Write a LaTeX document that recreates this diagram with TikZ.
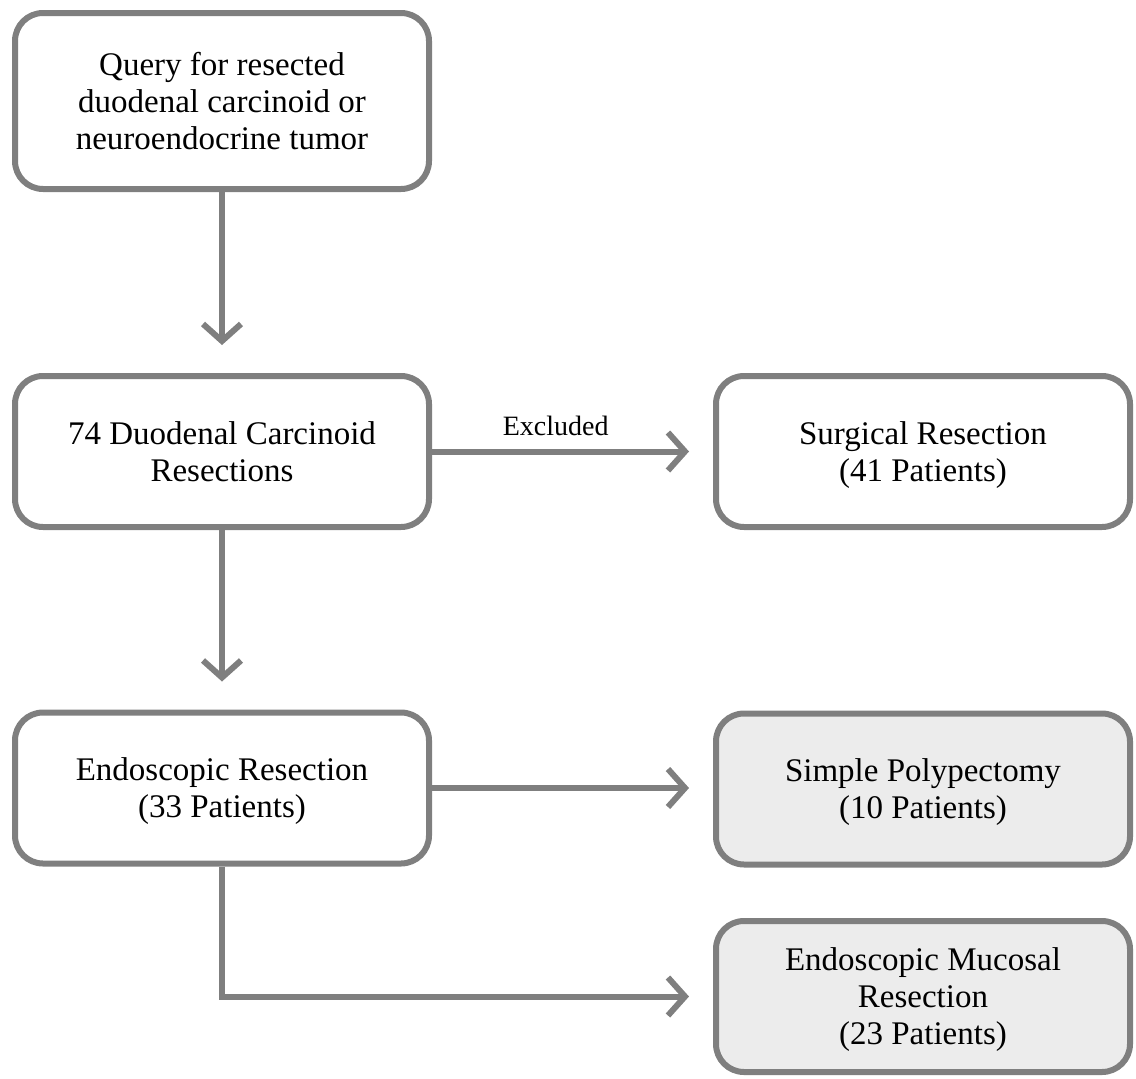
\documentclass[tikz,border=0pt]{standalone}
\usepackage{fontspec}
\setmainfont{Liberation Serif}
\usetikzlibrary{arrows.meta}
\definecolor{linegray}{HTML}{7F7F7F}
\definecolor{fillgray}{HTML}{ECECEC}
\tikzset{
	box/.style={draw=linegray, line width=6pt, rounded corners=28pt, fill=white,
		minimum width=414pt, minimum height=151pt, align=center,
		font=\fontsize{33}{37}\selectfont, text depth=0pt,
		execute at begin node=\strut, execute at end node=\strut},
	greybox/.style={box, fill=fillgray},
	arr/.style={draw=linegray, line width=6pt, -{Straight Barb[length=17pt,width=38pt]}}
}
\begin{document}
\begin{tikzpicture}[x=1pt,y=-1pt]
	\useasboundingbox (0,0) rectangle (1136,1079);
	\node[box, minimum height=176pt] at (222,101) (query) {Query for resected\\duodenal carcinoid or\\neuroendocrine tumor};
	\node[box] at (222,451.5) (total) {74 Duodenal Carcinoid\\Resections};
	\node[box] at (923,451.5) (surg) {Surgical Resection\\(41 Patients)};
	\node[box] at (222,788) (endo) {Endoscopic Resection\\(33 Patients)};
	\node[greybox] at (923,789) (poly) {Simple Polypectomy\\(10 Patients)};
	\node[greybox] at (923,996.5) (emr) {Endoscopic Mucosal\\Resection\\(23 Patients)};

	\draw[arr, shorten >=28pt] (query) -- (total);
	\draw[arr, shorten >=24pt] (total) -- node[pos=0.44, above=9pt, font=\fontsize{28}{32}\selectfont] (excl) {Excluded} (surg);
	\draw[arr, shorten >=28pt] (total) -- (endo);
	\draw[arr, shorten >=24pt] (endo.east) -- (endo.east -| poly.west);
	\draw[arr, shorten >=24pt] (endo.south) |- (emr.west);
\end{tikzpicture}
\end{document}
